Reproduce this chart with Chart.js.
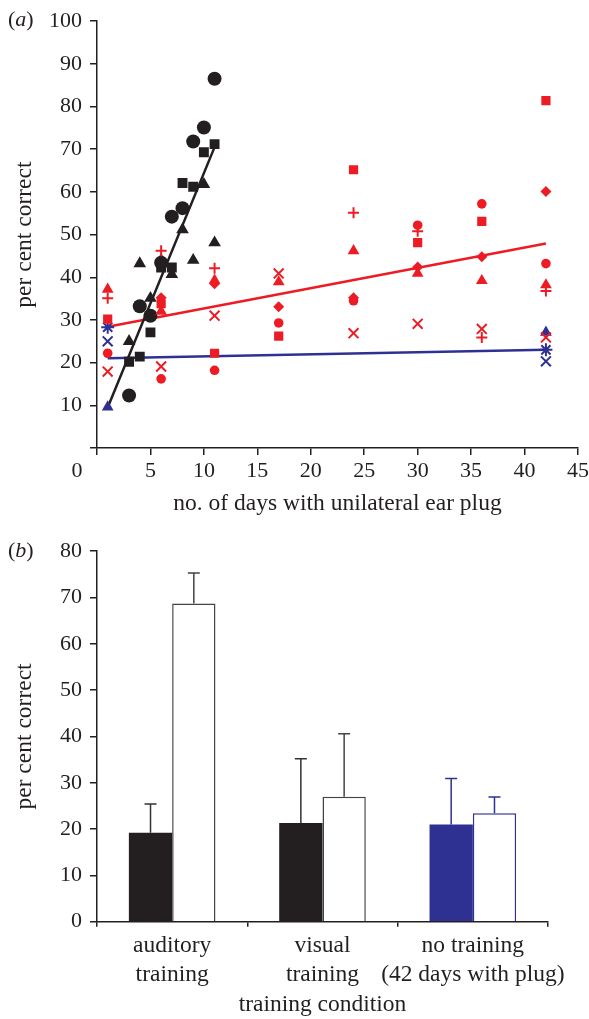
<!DOCTYPE html>
<html><head><meta charset="utf-8">
<script src="https://cdn.jsdelivr.net/npm/chart.js@4/dist/chart.umd.min.js"></script>
<style>
html,body{margin:0;padding:0;background:#fff;width:589px;height:1019px;overflow:hidden;}
#c1{position:absolute;left:0;top:0;}
#c2{position:absolute;left:0;top:530px;}
.lab{position:absolute;font-family:"Liberation Serif","Times New Roman",serif;font-size:22px;color:#231f20;line-height:26px;}
</style></head><body>
<canvas id="c1" width="589" height="520"></canvas>
<canvas id="c2" width="589" height="489"></canvas>
<div class="lab" style="left:8px;top:6px">(<i>a</i>)</div>
<div class="lab" style="left:8px;top:537px">(<i>b</i>)</div>
<script>
const INK = '#231f20', RED = '#ed1c24', BLUE = '#2e3192';
const FONT = '"Liberation Serif", "Times New Roman", serif';

// ---------- Panel (a): per cent correct vs days with plug ----------
const blackCircleDays = [3, 4, 5, 6, 7, 8, 9, 10, 11];
const blackCircleVals = [12.3, 33.2, 31.0, 43.4, 54.2, 56.2, 71.8, 75.1, 86.5];
const blackSquareDays = [3, 4, 5, 6, 7, 8, 9, 10, 11];
const blackSquareVals = [20.2, 21.4, 27.1, 42.3, 42.3, 62.1, 61.2, 69.3, 71.2];
const blackTriDays = [3, 4, 5, 6, 7, 8, 9, 10, 11];
const blackTriVals = [25.0, 43.2, 35.1, 44.0, 40.7, 51.2, 44.0, 61.8, 48.1];

const redSquareDays = [1, 6, 11, 17, 24, 30, 36, 42];
const redSquareVals = [30.2, 33.8, 22.2, 26.2, 65.2, 48.1, 53.1, 81.4];
const redCircleDays = [1, 6, 11, 17, 24, 30, 36, 42];
const redCircleVals = [22.2, 16.2, 18.2, 29.3, 34.5, 52.2, 57.2, 43.2];
const redTriDays = [1, 6, 11, 17, 24, 30, 36, 42];
const redTriVals = [37.2, 32.0, 39.3, 38.9, 46.2, 40.9, 39.2, 38.2];
const redDiamondDays = [6, 11, 17, 24, 30, 36, 42];
const redDiamondVals = [35.2, 38.5, 33.1, 35.2, 42.4, 44.8, 60.1];
const redPlusDays = [1, 6, 11, 24, 30, 36, 42];
const redPlusVals = [35.1, 46.2, 42.1, 55.1, 50.8, 25.9, 36.8];
const redCrossDays = [1, 6, 11, 17, 24, 30, 36, 42];
const redCrossVals = [17.9, 19.1, 31.0, 40.9, 26.9, 29.1, 27.9, 25.9];

const blueTriDays = [1, 42];
const blueTriVals = [9.6, 27.1];
const blueStarDays = [1, 42];
const blueStarVals = [28.3, 23.0];
const blueCrossDays = [1, 42];
const blueCrossVals = [25.0, 20.3];

const blackFitDays = [1, 11];
const blackFitVals = [9.5, 70.5];
const redFitDays = [1, 42];
const redFitVals = [28.4, 47.9];
const blueFitDays = [1, 42];
const blueFitVals = [21.0, 23.0];

// ---------- Panel (b): bars ----------
const conditions = [['auditory', 'training'], ['visual', 'training'], ['no training', '(42 days with plug)']];
const beforeVals = [19.2, 21.3, 21.0];
const beforeErrTop = [25.4, 35.2, 30.9];
const afterVals = [68.7, 27.0, 23.4];
const afterErrTop = [75.3, 40.6, 26.9];

const pts = (d, v) => d.map((x, i) => ({x: x, y: v[i]}));
function marks(days, vals, color, style, radius, open) {
  return {
    data: pts(days, vals), pointStyle: style, pointRadius: radius, pointHoverRadius: radius,
    backgroundColor: color, borderColor: color, borderWidth: open ? 2 : 0,
    showLine: false, order: 1
  };
}
function fit(days, vals, color) {
  return {data: pts(days, vals), showLine: true, borderColor: color, borderWidth: 2.5,
    pointRadius: 0, fill: false, order: 10};
}

const axisGrid = {display: true, drawOnChartArea: false, drawTicks: true, tickLength: 7, color: INK, lineWidth: 1.5};
const axisBorder = {display: true, color: INK, width: 1.5};
const tickFont = {family: FONT, size: 22};
const titleFont = {family: FONT, size: 23.5};

const zeroLabel = {
  id: 'zeroLabel',
  afterDraw(chart) {
    const ctx = chart.ctx;
    ctx.save();
    ctx.font = '22px ' + FONT;
    ctx.fillStyle = INK;
    ctx.textAlign = 'center';
    ctx.textBaseline = 'middle';
    ctx.fillText('0', chart.chartArea.left - 20, chart.scales.x.top + 23);
    ctx.restore();
  }
};

new Chart(document.getElementById('c1'), {
  type: 'scatter',
  data: {
    datasets: [
      fit(blackFitDays, blackFitVals, INK),
      fit(redFitDays, redFitVals, RED),
      fit(blueFitDays, blueFitVals, BLUE),
      marks(redSquareDays, redSquareVals, RED, 'rect', 6.5),
      marks(redCircleDays, redCircleVals, RED, 'circle', 4.8),
      marks(redTriDays, redTriVals, RED, 'triangle', 6.8),
      marks(redDiamondDays, redDiamondVals, RED, 'rectRot', 5.5),
      marks(redPlusDays, redPlusVals, RED, 'cross', 5.5, true),
      marks(redCrossDays, redCrossVals, RED, 'crossRot', 7, true),
      marks(blueTriDays, blueTriVals, BLUE, 'triangle', 6.8),
      marks(blueStarDays, blueStarVals, BLUE, 'star', 6.5, true),
      marks(blueCrossDays, blueCrossVals, BLUE, 'crossRot', 7, true),
      marks(blackCircleDays, blackCircleVals, INK, 'circle', 7),
      marks(blackSquareDays, blackSquareVals, INK, 'rect', 7),
      marks(blackTriDays, blackTriVals, INK, 'triangle', 7.3)
    ]
  },
  options: {
    responsive: false, animation: false, events: [],
    layout: {padding: {top: 19, right: 11, left: 0, bottom: 0}},
    plugins: {legend: {display: false}, tooltip: {enabled: false}},
    scales: {
      x: {
        type: 'linear', min: 0, max: 45,
        grid: axisGrid, border: axisBorder,
        ticks: {stepSize: 5, color: INK, font: tickFont, padding: 3, maxRotation: 0,
          callback: v => v === 0 ? '' : String(v)},
        title: {display: true, text: 'no. of days with unilateral ear plug', color: INK,
          font: titleFont, padding: {top: 0, bottom: 2.4}},
        afterFit: s => { s.height = 72; s.paddingLeft = 0; s.paddingRight = 0; }
      },
      y: {
        min: 0, max: 100,
        grid: axisGrid, border: axisBorder,
        ticks: {stepSize: 10, color: INK, font: tickFont, padding: 8,
          callback: v => v === 0 ? '' : String(v)},
        title: {display: true, text: 'per cent correct', color: INK,
          font: titleFont, padding: {top: 10.3, bottom: 0}},
        afterFit: s => { s.width = 97; }
      }
    }
  },
  plugins: [zeroLabel]
});

const errBars = {
  id: 'errBars',
  afterDatasetsDraw(chart) {
    const ctx = chart.ctx, ys = chart.scales.y;
    chart.data.datasets.forEach((ds, di) => {
      const meta = chart.getDatasetMeta(di);
      meta.data.forEach((el, i) => {
        const top = ys.getPixelForValue(ds.errTop[i]);
        ctx.save();
        ctx.strokeStyle = ds.errColor[i];
        ctx.lineWidth = 1.5;
        ctx.beginPath();
        ctx.moveTo(el.x, el.y);
        ctx.lineTo(el.x, top);
        ctx.moveTo(el.x - 6, top);
        ctx.lineTo(el.x + 6, top);
        ctx.stroke();
        ctx.restore();
      });
    });
  }
};

new Chart(document.getElementById('c2'), {
  type: 'bar',
  data: {
    labels: conditions,
    datasets: [
      {data: beforeVals, backgroundColor: [INK, INK, BLUE], borderWidth: 0,
        errTop: beforeErrTop, errColor: ['#333', '#333', BLUE],
        categoryPercentage: 0.576, barPercentage: 1.0},
      {data: afterVals, backgroundColor: '#ffffff', borderColor: ['#444', '#444', BLUE], borderWidth: 1.5,
        borderSkipped: 'bottom', errTop: afterErrTop, errColor: ['#444', '#444', BLUE],
        categoryPercentage: 0.576, barPercentage: 1.0}
    ]
  },
  options: {
    responsive: false, animation: false, events: [],
    layout: {padding: {top: 19.3, right: 41, left: 0, bottom: 0}},
    plugins: {legend: {display: false}, tooltip: {enabled: false}},
    scales: {
      x: {
        grid: Object.assign({}, axisGrid, {tickLength: 5, offset: true}), border: axisBorder,
        ticks: {color: INK, font: {family: FONT, size: 23.5, lineHeight: 1.22}, padding: 4.7, maxRotation: 0, autoSkip: false},
        title: {display: true, text: 'training condition', color: INK,
          font: titleFont, padding: {top: 0, bottom: 0}},
        afterFit: s => { s.height = 97.3; s.paddingLeft = 0; s.paddingRight = 0; }
      },
      y: {
        min: 0, max: 80,
        grid: axisGrid, border: axisBorder,
        ticks: {stepSize: 10, color: INK, font: tickFont, padding: 8},
        title: {display: true, text: 'per cent correct', color: INK,
          font: titleFont, padding: {top: 10.3, bottom: 0}},
        afterFit: s => { s.width = 97; }
      }
    }
  },
  plugins: [errBars]
});
</script>
</body></html>
